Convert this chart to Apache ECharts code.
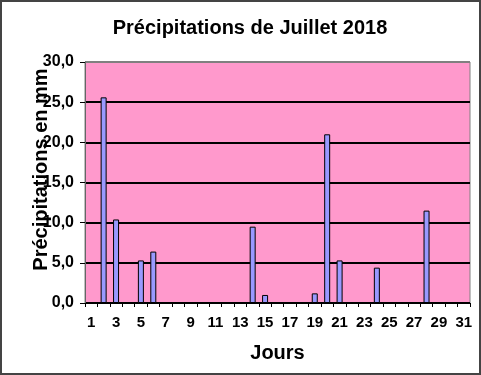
<!DOCTYPE html>
<html><head><meta charset="utf-8">
<script src="https://cdn.jsdelivr.net/npm/echarts@6/dist/echarts.min.js"></script>
<style>html,body{margin:0;padding:0;background:#fff}#c{width:481px;height:375px}</style>
</head><body><div id="c"></div>
<script>
const days = Array.from({length:31},(_,i)=>String(i+1));
const rain = [0,25.6,10.4,0,5.3,6.4,0,0,0,0,0,0,0,9.5,1.0,0,0,0,1.2,21.0,5.3,0,0,4.4,0,0,0,11.5,0,0,0];
const yTicks = [0,5,10,15,20,25,30];
const chart = echarts.init(document.getElementById('c'));
const F = 'Liberation Sans, Arial, sans-serif';
chart.setOption({
  animation:false,
  backgroundColor:'#fff',
  textStyle:{fontFamily:F},
  title:{text:'Précipitations de Juillet 2018',left:245,textAlign:'center',top:13,
    textStyle:{fontFamily:F,fontSize:20,fontWeight:'bold',color:'#000'}},
  graphic:[{type:'rect',shape:{x:1,y:1,width:479,height:373},style:{fill:'none',stroke:'#444',lineWidth:2},z:100}],
  grid:{left:85,right:11,top:62,bottom:72,show:true,backgroundColor:'#ff99cc',borderColor:'#808080',borderWidth:1},
  xAxis:{type:'category',data:days,name:'Jours',nameLocation:'middle',nameGap:40,
    nameTextStyle:{fontFamily:F,fontSize:20,fontWeight:'bold',color:'#000'},
    axisLine:{lineStyle:{color:'#000',width:1}},
    axisTick:{show:true,inside:false,length:4,lineStyle:{color:'#000'},interval:0},
    axisLabel:{interval:1,fontFamily:F,fontSize:15,fontWeight:'bold',color:'#000',margin:12},
    z:5},
  yAxis:{type:'value',min:0,max:30,interval:5,name:'Précipitations en mm',nameLocation:'middle',nameGap:34,
    nameMoveOverlap:false,
    nameTextStyle:{fontFamily:F,fontSize:20,fontWeight:'bold',color:'#000',padding:[0,0,0,26]},
    axisLine:{show:true,lineStyle:{color:'#666'}},
    axisTick:{show:true,length:5,lineStyle:{color:'#000'}},
    axisLabel:{fontFamily:F,fontSize:16,fontWeight:'bold',color:'#000',margin:11,
      formatter:v=>v.toFixed(1).replace('.',',')},
    splitLine:{show:true,lineStyle:{color:['#000','#000','#000','#000','#000','#000','#808080'],width:2}}},
  series:[{type:'bar',data:rain,barWidth:6,itemStyle:{color:'#9999ff',borderColor:'#000',borderWidth:1}}]
});
</script></body></html>
